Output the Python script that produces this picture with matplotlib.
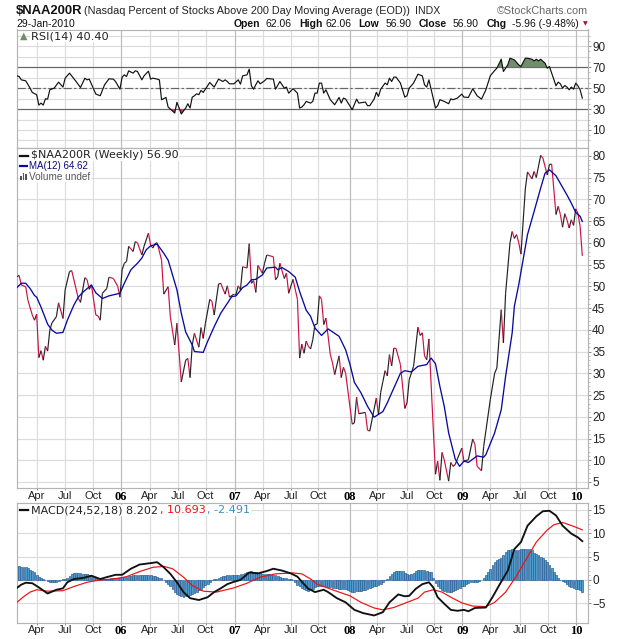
import matplotlib
matplotlib.use('Agg')
import matplotlib.pyplot as plt
from matplotlib.collections import LineCollection
import numpy as np

#   weekly close, read at the turning points
price_weeks = [0, 1, 2, 4, 5, 7, 8, 9, 10, 11, 12, 13, 14, 15, 16, 18, 19, 21, 22, 24, 25, 28, 29, 31, 32, 33, 34, 36, 37, 38,
               39, 41, 42, 44, 46, 47, 48, 49, 50, 51, 53, 54, 55, 57, 58, 60, 61, 62, 63, 64, 66, 67, 69, 70, 72, 73, 75, 77, 78, 79,
               80, 81, 83, 84, 85, 86, 88, 89, 90, 92, 93, 95, 96, 97, 99, 100, 101, 102, 103, 105, 106, 107, 108, 109, 110, 112, 113, 114, 117, 118,
               119, 120, 122, 123, 124, 126, 128, 129, 130, 131, 132, 133, 134, 135, 136, 137, 138, 139, 140, 141, 143, 144, 145, 147, 148, 149, 150, 153, 154, 155, 156,
               159, 160, 161, 164, 165, 166, 167, 168, 169, 170, 171, 172, 173, 175, 177, 178, 179, 181, 183, 184, 185, 186, 187, 188, 191, 192, 193, 194, 195, 197,
               198, 199, 200, 201, 203, 204, 206, 208, 209, 210, 212, 213, 216, 218, 219, 221, 222, 223, 225, 226, 227, 228, 229, 230, 232, 233, 235, 236, 237, 239,
               240, 242, 243, 244, 246, 247, 248, 249, 250, 251, 252, 253, 254, 255, 256, 257, 258]
price_close = [52.2, 52.5, 50.3, 49.9, 46.8, 43.4, 42.2, 43.6, 33.6, 35.2, 33.0, 36.2, 35.1, 39.9, 41.6, 43.0, 46.2, 42.6, 49.2, 53.4, 53.6, 47.2, 46.3, 52.0, 51.5, 49.3, 50.3, 43.4, 43.2, 42.2,
               48.4, 49.5, 52.1, 51.8, 50.0, 47.5, 53.8, 55.3, 55.7, 59.2, 58.0, 60.3, 60.0, 57.2, 59.2, 62.2, 59.5, 58.8, 59.8, 60.0, 56.0, 48.2, 49.9, 43.0, 36.5, 41.5, 28.0, 33.0, 33.4, 29.0,
               36.5, 39.2, 36.0, 40.5, 38.0, 41.5, 47.0, 46.5, 43.4, 50.5, 50.7, 48.2, 50.1, 47.5, 48.2, 48.2, 50.1, 49.2, 54.5, 54.2, 59.8, 50.7, 51.3, 48.6, 54.8, 53.0, 55.3, 57.2, 56.8, 51.5,
               52.2, 55.3, 51.8, 53.0, 48.4, 51.6, 47.0, 33.5, 36.7, 34.6, 37.4, 36.2, 35.6, 37.7, 41.2, 41.3, 47.8, 47.0, 41.2, 42.7, 34.3, 32.4, 29.7, 34.0, 29.0, 31.4,
               30.0, 18.3, 18.6, 24.5, 20.7, 21.0, 16.9, 16.7, 24.3, 20.5, 25.6, 28.1, 30.6, 29.4, 34.3, 31.7, 35.8, 35.7, 32.0, 21.9, 23.2, 28.5, 31.6, 40.6, 38.7, 39.3, 34.0, 33.1, 37.9,
               6.8, 9.8, 5.4, 11.8, 10.1, 5.2, 9.5, 8.6, 9.0, 10.3, 12.8, 9.8, 10.1, 14.9, 13.6, 8.6, 7.6, 13.2, 23.9, 30.0, 31.2, 44.6, 37.0, 48.4, 60.0, 62.6, 61.0, 61.9, 60.0, 57.4,
               72.4, 76.3, 74.7, 76.4, 75.0, 80.1, 79.5, 75.6, 78.0, 78.1, 66.5, 68.4, 66.5, 63.6, 66.7, 65.3, 63.4, 65.3, 64.0, 67.8, 66.8, 63.8, 57.0]

ma_weeks = [0, 2, 4, 6, 8, 9, 11, 14, 16, 18, 21, 23, 26, 28, 30, 34, 36, 39, 42, 47, 49, 52, 55, 57, 59, 61, 64, 67, 69, 71,
            73, 75, 77, 80, 81, 85, 87, 90, 93, 98, 100, 103, 105, 107, 109, 112, 114, 118, 119, 121, 124, 127, 129, 132, 134, 136, 139, 142, 147, 150,
            152, 154, 157, 160, 163, 167, 169, 172, 175, 177, 180, 183, 187, 189, 191, 193, 195, 197, 200, 202, 204, 206, 210, 213, 214, 218, 221, 223, 226, 227,
            229, 233, 236, 239, 241, 243, 246, 251, 253, 255, 257, 258]
ma_values = [49.7, 50.7, 50.7, 49.5, 47.9, 47.5, 45.2, 41.3, 39.9, 39.2, 39.4, 42.2, 45.7, 47.5, 48.6, 50.3, 48.5, 47.2, 47.8, 48.4, 50.7, 53.8, 55.3, 56.5, 58.4, 59.3, 59.7, 57.6, 56.0, 52.6,
             49.2, 43.8, 39.5, 36.5, 35.0, 34.8, 37.3, 40.7, 43.8, 47.6, 47.8, 49.7, 50.3, 51.5, 51.6, 52.6, 54.2, 54.4, 53.8, 54.3, 53.4, 52.1, 48.8, 44.5, 43.1, 40.4, 38.7, 40.2, 38.5, 35.4,
             32.0, 27.9, 25.5, 22.4, 19.9, 21.2, 23.2, 26.6, 30.0, 30.6, 30.3, 31.6, 32.0, 33.5, 32.2, 27.0, 22.4, 16.3, 10.3, 8.6, 9.8, 9.5, 11.0, 10.7, 11.3, 16.3, 21.6, 29.3, 39.3, 45.4,
             50.4, 61.9, 67.2, 72.6, 76.0, 76.8, 75.4, 71.0, 69.1, 67.0, 66.1, 64.9]

rsi_weeks = [0, 1, 2, 4, 6, 7, 9, 10, 11, 12, 13, 14, 15, 17, 19, 21, 22, 24, 27, 29, 31, 32, 33, 36, 38, 40, 42, 44, 45, 47,
             48, 49, 50, 51, 53, 54, 55, 57, 58, 60, 61, 62, 64, 65, 66, 68, 69, 72, 73, 74, 75, 77, 78, 79, 80, 81, 82, 83, 84, 85,
             88, 90, 92, 94, 95, 96, 97, 99, 101, 102, 103, 105, 106, 107, 108, 109, 110, 111, 113, 114, 117, 118, 120, 122, 123, 124, 126, 128, 129, 130,
             131, 132, 134, 135, 136, 137, 138, 139, 140, 141, 143, 145, 147, 148, 149, 150, 153, 155, 156, 159, 160, 161, 163, 164, 165, 166, 168, 169, 170, 171,
             172, 173, 175, 177, 178, 179, 181, 183, 185, 186, 187, 188, 191, 192, 193, 195, 197, 198, 199, 201, 203, 204, 206, 208, 210, 212, 214, 216, 218, 219,
             221, 222, 224, 225, 227, 229, 230, 232, 233, 235, 236, 237, 238, 239, 241, 242, 243, 246, 247, 248, 249, 250, 251, 252, 253, 254, 255, 256, 257, 258]
rsi_values = [61.7, 61.1, 57.9, 57.0, 50.0, 45.9, 43.7, 33.8, 35.7, 33.8, 39.8, 39.5, 48.4, 50.0, 55.7, 51.0, 59.5, 64.3, 56.3, 50.6, 59.5, 57.9, 58.6, 44.3, 42.7, 53.2, 58.9, 58.6, 56.3, 49.0,
              60.5, 62.7, 61.1, 66.5, 64.3, 66.5, 65.9, 57.9, 61.7, 66.2, 58.6, 59.5, 58.6, 57.9, 38.9, 41.1, 31.9, 26.2, 36.4, 31.0, 25.3, 31.0, 35.1, 31.0, 41.4, 42.7, 44.6, 43.7, 47.8, 45.9,
              55.4, 51.0, 58.6, 56.3, 57.9, 56.3, 54.1, 54.1, 57.9, 53.8, 61.7, 62.7, 68.1, 52.2, 49.0, 53.2, 57.0, 54.1, 57.0, 59.2, 58.6, 49.0, 56.3, 50.0, 51.0, 45.2, 49.4, 45.2, 31.0, 31.9,
              34.1, 37.3, 35.7, 37.3, 45.2, 45.2, 54.8, 54.8, 45.2, 48.4, 38.9, 34.1, 41.1, 35.7, 40.5, 39.5, 29.4, 39.5, 35.7, 36.7, 33.2, 33.2, 39.5, 45.9, 42.1, 49.0, 54.8, 53.2, 59.5, 56.3,
              60.5, 60.5, 54.8, 41.4, 42.7, 50.0, 54.8, 63.3, 61.7, 53.2, 51.0, 57.9, 31.0, 33.2, 38.9, 37.3, 35.1, 39.8, 38.9, 40.5, 44.3, 41.4, 41.1, 49.4, 42.7, 39.5, 48.4, 61.7, 66.8, 69.0,
              77.6, 65.9, 72.2, 78.6, 77.0, 72.2, 70.6, 78.6, 78.6, 77.6, 76.0, 77.6, 76.0, 77.6, 73.8, 69.0, 70.6, 52.2, 55.7, 54.1, 50.0, 52.5, 51.0, 48.4, 51.0, 49.0, 54.8, 52.2, 48.4, 40.5]

macd_weeks = [0, 2, 4, 7, 10, 14, 18, 21, 23, 26, 30, 34, 38, 41, 45, 48, 52, 56, 61, 64, 67, 70, 73, 76, 79, 83, 87, 90, 93, 96,
              99, 102, 106, 110, 114, 117, 121, 125, 128, 131, 133, 134, 136, 140, 142, 146, 150, 154, 158, 163, 167, 170, 174, 177, 179, 182, 185, 188, 190, 192,
              195, 198, 201, 204, 206, 209, 214, 217, 220, 224, 227, 230, 233, 237, 240, 243, 246, 249, 253, 256, 258]
macd_values = [-1.7, -1.0, -0.6, -0.7, -1.6, -2.9, -2.1, -1.8, -0.5, 0.2, 0.4, 0.9, 0.2, 0.6, 1.1, 1.1, 2.4, 3.3, 3.6, 3.8, 2.7, 1.3, -0.5, -2.6, -3.9, -4.3, -3.7, -2.6, -1.8, -0.9,
               -0.4, 0.0, 1.6, 1.4, 1.9, 2.4, 2.0, 1.4, 0.7, -0.9, -1.9, -2.1, -2.6, -2.1, -2.6, -3.9, -4.8, -6.4, -7.1, -7.6, -6.9, -4.8, -3.1, -3.5, -3.4, -1.9, -0.9, -0.5, -1.6, -3.7,
               -5.1, -6.4, -6.6, -6.4, -6.7, -6.0, -5.9, -3.7, -1.2, 2.0, 6.6, 8.1, 11.6, 13.6, 14.7, 14.8, 13.8, 11.6, 9.9, 9.1, 8.3]

signal_weeks = [0, 3, 6, 9, 14, 21, 26, 32, 38, 44, 50, 56, 62, 67, 71, 76, 80, 85, 91, 99, 105, 111, 118, 126, 130, 134, 137, 141, 147, 152,
                157, 163, 167, 172, 178, 183, 186, 190, 194, 198, 203, 208, 214, 218, 223, 228, 233, 237, 242, 245, 249, 252, 255, 258]
signal_values = [-4.8, -3.6, -2.6, -2.1, -2.4, -2.3, -1.4, -0.5, 0.0, 0.2, 0.7, 1.8, 2.7, 2.9, 2.4, 0.6, -1.2, -2.4, -2.6, -1.7, -0.7, 0.6, 1.3, 1.5, 1.3, 0.2, -0.9, -1.6, -2.6, -3.4,
                 -4.8, -6.0, -6.4, -5.9, -4.8, -3.9, -2.6, -2.1, -2.6, -3.7, -4.9, -5.6, -5.7, -4.8, -2.6, 0.9, 4.9, 8.1, 10.7, 11.8, 12.3, 11.8, 11.3, 10.7]

#   one bar a week
hist_values = [2.9, 2.9, 2.8, 2.7, 2.7, 2.5, 2.2, 2.0, 1.6, 1.1,
               0.7, 0.4, 0.1, -0.1, -0.3, -0.4, -0.5, -0.5, -0.4, -0.3,
               0.0, 0.1, 0.2, 0.5, 0.9, 1.2, 1.4, 1.5, 1.5, 1.4,
               1.3, 1.3, 1.2, 1.1, 0.9, 0.7, 0.5, 0.4, 0.3, 0.2,
               0.2, 0.2, 0.3, 0.4, 0.4, 0.4, 0.4, 0.4, 0.5, 0.6,
               0.7, 0.8, 0.9, 1.0, 1.0, 1.0, 1.1, 1.1, 1.1, 1.1,
               1.0, 1.0, 0.9, 0.8, 0.7, 0.5, 0.4, 0.0, -0.5, -0.9,
               -1.4, -2.0, -2.6, -3.0, -3.3, -3.5, -3.6, -3.5, -3.4, -3.3,
               -3.1, -2.8, -2.5, -2.2, -1.9, -1.5, -1.1, -0.8, -0.4, -0.1,
               0.1, 0.3, 0.5, 0.7, 0.9, 0.9, 1.0, 1.0, 1.1, 1.1,
               1.1, 1.1, 1.2, 1.3, 1.5, 1.6, 1.8, 1.9, 1.8, 1.6,
               1.5, 1.4, 1.3, 1.3, 1.2, 1.2, 1.1, 1.1, 1.1, 0.9,
               0.7, 0.5, 0.4, 0.4, 0.3, 0.1, -0.1, -0.5, -1.0, -1.3,
               -1.7, -2.0, -2.2, -2.3, -2.1, -1.9, -1.6, -1.3, -1.2, -1.2,
               -1.3, -1.4, -1.5, -1.6, -1.7, -1.8, -1.8, -1.9, -1.9, -1.9,
               -2.0, -2.2, -2.3, -2.5, -2.5, -2.4, -2.4, -2.3, -2.2, -2.1,
               -2.0, -1.8, -1.6, -1.3, -1.2, -1.0, -0.8, -0.5, -0.1, 0.3,
               0.9, 1.3, 1.6, 1.9, 2.0, 2.0, 1.9, 1.5, 1.2, 1.1,
               1.2, 1.5, 1.9, 2.1, 2.2, 2.2, 2.1, 2.0, 1.8, 1.8,
               0.5, -0.6, -1.4, -1.8, -2.1, -2.4, -2.5, -2.5, -2.5, -2.3,
               -2.1, -1.9, -1.7, -1.4, -1.2, -0.9, -0.7, -0.5, -0.4, -0.4,
               -0.4, -0.3, 0.0, 0.5, 1.0, 1.6, 2.4, 3.2, 3.8, 4.2,
               4.5, 4.8, 5.4, 6.0, 6.3, 6.5, 6.6, 6.5, 6.5, 6.5,
               6.6, 6.7, 6.7, 6.7, 6.6, 6.3, 5.8, 5.6, 5.3, 5.0,
               4.6, 4.2, 3.8, 3.3, 2.6, 1.8, 1.0, 0.4, 0.0, -0.2,
               -0.5, -0.9, -1.2, -1.5, -1.7, -1.9, -2.0, -2.1, -2.6]

#   x axis
tick_weeks = [9.1, 21.9, 34.6, 47.4, 60.6, 73.4, 86.1, 99.4, 112.1, 124.9, 137.6, 151.8, 164.5, 177.8, 190.5, 203.3, 216, 229.7, 242.5, 255.2]
tick_labels = ['Apr', 'Jul', 'Oct', '06', 'Apr', 'Jul', 'Oct', '07', 'Apr', 'Jul', 'Oct', '08', 'Apr', 'Jul', 'Oct', '09', 'Apr', 'Jul', 'Oct', '10']

W, H = 620, 639
SANS = 'Liberation Sans'
GRID = '#dcdcdc'
YEAR_GRID = '#bcbcbc'
EDGE = '#b4b4b4'

plt.rcParams['font.family'] = SANS
fig = plt.figure(figsize=(W / 100, H / 100), dpi=100, facecolor='white')


def make_panel(top, bottom, ylim, yticks, ygrid, minor_step):
    ax = fig.add_axes([16.5 / W, 1 - bottom / H, (588 - 16.5) / W, (bottom - top) / H])
    ax.set_xlim(-0.2, 260.6)
    ax.set_ylim(*ylim)
    ax.set_yticks(yticks)
    ax.set_yticks(np.arange(ygrid[0], ygrid[-1] + 0.01, minor_step), minor=True)
    ax.set_xticks(tick_weeks)
    ax.set_xticklabels([])
    ax.yaxis.tick_right()
    ax.tick_params(axis='y', which='major', length=2, width=0.6, color='#777777', labelsize=8.5, pad=1, labelcolor='#222222')
    ax.tick_params(axis='y', which='minor', length=1.2, width=0.5, color='#aaaaaa')
    ax.tick_params(axis='x', length=1.5, width=0.6, color='#777777')
    for y in ygrid:
        ax.axhline(y, color=GRID, lw=0.85, zorder=0)
    for w, lab in zip(tick_weeks, tick_labels):
        ax.axvline(w, color=YEAR_GRID if lab.isdigit() else GRID, lw=0.85, zorder=0)
    for s in ax.spines.values():
        s.set_color(EDGE)
        s.set_linewidth(0.85)
    return ax


def week_labels(ax):
    ax.set_xticklabels(tick_labels)
    for lab in ax.get_xticklabels():
        if lab.get_text().isdigit():
            lab.set_fontfamily('Liberation Serif')
            lab.set_fontweight('bold')
            lab.set_fontsize(9)
        else:
            lab.set_fontsize(8)
            lab.set_color('#222222')
    ax.tick_params(axis='x', pad=0.5)


def put(x, y, s, **kw):
    kw.setdefault('va', 'center')
    return fig.text(x / W, 1 - y / H, s, parse_math=False, **kw)


#   RSI panel
ax_rsi = make_panel(29.5, 148, (-7.2, 106), [10, 30, 50, 70, 90], list(range(0, 101, 10)), 5)
rsi_x = np.array(rsi_weeks)
rsi_y = np.array(rsi_values)
ax_rsi.fill_between(rsi_x, rsi_y, 70, where=rsi_y >= 70, interpolate=True, color='#6f8f6b', lw=0, zorder=2)
ax_rsi.fill_between(rsi_x, rsi_y, 30, where=rsi_y <= 30, interpolate=True, color='#c04060', lw=0, zorder=2)
ax_rsi.axhline(70, color='#666666', lw=0.85, zorder=1)
ax_rsi.axhline(30, color='#666666', lw=0.85, zorder=1)
ax_rsi.axhline(50, color='#666666', lw=0.85, ls=(0, (7, 2, 2, 2)), zorder=1)
ax_rsi.plot(rsi_x, rsi_y, color='#111111', lw=0.85, zorder=3)

#   price panel
ax_price = make_panel(148, 488, (3.62, 81.8), list(range(5, 81, 5)), list(range(5, 81, 5)), 1)
px = np.array(price_weeks)
py = np.array(price_close)
segs = np.stack([np.column_stack([px[:-1], py[:-1]]), np.column_stack([px[1:], py[1:]])], axis=1)
seg_cols = ['#222222' if b >= a else '#cc1144' for a, b in zip(py[:-1], py[1:])]
ax_price.add_collection(LineCollection(segs, colors=seg_cols, linewidths=0.85, zorder=3))
ax_price.plot(ma_weeks, ma_values, color='#0a0aa0', lw=0.95, zorder=4)
week_labels(ax_price)

#   MACD panel
ax_macd = make_panel(503.3, 622.7, (-9.15, 16.4), [-5, 0, 5, 10, 15], [-5, 0, 5, 10, 15], 1)
ax_macd.bar(range(len(hist_values)), hist_values, width=0.85, color='#4f9bcc', edgecolor='#2c6299', lw=0.5, zorder=2)
ax_macd.plot(signal_weeks, signal_values, color='#ee1111', lw=0.85, zorder=3)
ax_macd.plot(macd_weeks, macd_values, color='#111111', lw=1.35, zorder=4)
week_labels(ax_macd)

#   header
put(16, 10.5, '$NAA200R', fontsize=9.4, fontweight='bold', color='#111111')
put(84, 10.5, '(Nasdaq Percent of Stocks Above 200 Day Moving Average (EOD))', fontsize=7.8, color='#222222')
put(415, 10.5, 'INDX', fontsize=7.6, color='#222222')
put(588, 10.5, '\u00a9StockCharts.com', fontsize=7.8, color='#666666', ha='right')
put(16, 23.7, '29-Jan-2010', fontsize=7.5, color='#111111')
row = [(234, 'Open', True), (266, '62.06', False), (299, 'High', True), (326, '62.06', False), (358, 'Low', True),
       (386, '56.90', False), (419, 'Close', True), (453, '56.90', False), (487, 'Chg', True), (512, '-5.96 (-9.48%)', False)]
for x, s, is_bold in row:
    put(x, 23.7, s, fontsize=7.5, fontweight='bold' if is_bold else 'normal', color='#111111')
fig.text(585 / W, 1 - 24 / H, '\u25bc', fontsize=4.5, color='#aa1133', ha='center', va='center', family='DejaVu Sans')

#   panel legends
white = dict(facecolor='white', edgecolor='none', pad=0.5)
put(31, 36.5, 'RSI(14) 40.40', bbox=white, family='DejaVu Sans', fontsize=8.2, color='#222222')
fig.text(23.5 / W, 1 - 36 / H, '\u25b2', fontsize=7, color='#6f8f6b', ha='center', va='center', family='DejaVu Sans')
put(31, 155.5, '$NAA200R (Weekly) 56.90', bbox=white, family='DejaVu Sans', fontsize=8, color='#222222')
fig.add_artist(plt.Line2D([20 / W, 28 / W], [1 - 155.5 / H] * 2, color='#111111', lw=1.6))
put(29, 166.3, 'MA(12) 64.62', fontsize=7, color='#0a0a80', bbox=white)
fig.add_artist(plt.Line2D([20 / W, 27 / W], [1 - 166 / H] * 2, color='#0a0aa0', lw=1.6))
put(29, 176.7, 'Volume undef', fontsize=7.2, color='#555555', bbox=white)
for bx, bh in zip([20, 22.5, 25], [4, 7, 6]):
    fig.add_artist(plt.Rectangle((bx / W, 1 - 180 / H), 1.6 / W, bh / H, color='#555555', lw=0, transform=fig.transFigure))
put(31, 510.3, 'MACD(24,52,18) 8.202', bbox=white, family='DejaVu Sans', fontsize=8, color='#222222')
fig.add_artist(plt.Line2D([20 / W, 28 / W], [1 - 510.3 / H] * 2, color='#111111', lw=1.6))
put(160, 510.3, ', 10.693', family='DejaVu Sans', fontsize=8, color='#ee1111', bbox=white)
put(207, 510.3, ', -2.491', family='DejaVu Sans', fontsize=8, color='#3a8fc0', bbox=white)

fig.savefig('out.png', dpi=100, facecolor='white')
